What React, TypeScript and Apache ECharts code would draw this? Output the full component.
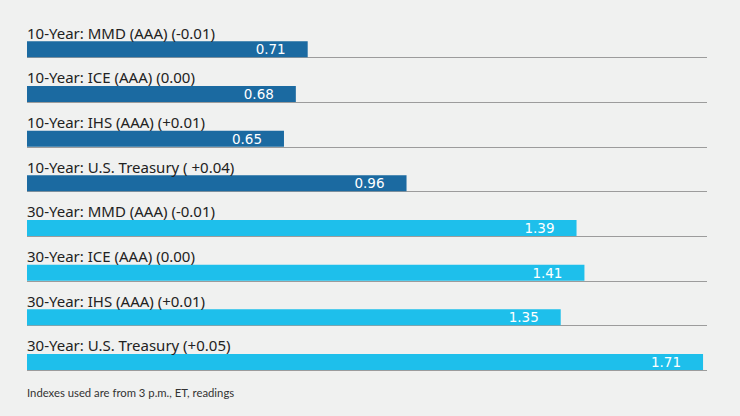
import React, { useEffect, useRef } from "react";
import * as echarts from "echarts";

const categories = [
  "10-Year: MMD (AAA) (-0.01)",
  "10-Year: ICE (AAA) (0.00)",
  "10-Year: IHS (AAA) (+0.01)",
  "10-Year: U.S. Treasury ( +0.04)",
  "30-Year: MMD (AAA) (-0.01)",
  "30-Year: ICE (AAA) (0.00)",
  "30-Year: IHS (AAA) (+0.01)",
  "30-Year: U.S. Treasury (+0.05)",
];
const values = [0.71, 0.68, 0.65, 0.96, 1.39, 1.41, 1.35, 1.71];
const groups = ["10", "10", "10", "10", "30", "30", "30", "30"];
const footnote = "Indexes used are from 3 p.m., ET, readings";

const XMAX = 1.72;
const COLOR_10 = "#1b6aa1";
const COLOR_30 = "#1ebfeb";

export default function App() {
  const ref = useRef<HTMLDivElement>(null);
  useEffect(() => {
    if (!ref.current) return;
    const chart = echarts.init(ref.current, null, { renderer: "svg" });
    chart.setOption({
      animation: false,
      backgroundColor: "#f0f1f0",
      grid: { left: 27, right: 33, top: 27, bottom: 31.7, containLabel: false },
      xAxis: {
        type: "value",
        min: 0,
        max: XMAX,
        show: false,
      },
      yAxis: {
        type: "category",
        data: categories,
        inverse: true,
        axisLine: { show: false },
        axisTick: { show: false },
        splitLine: { show: false },
        axisLabel: {
          inside: true,
          margin: 0,
          align: "left",
          verticalAlign: "bottom",
          lineHeight: 33,
          color: "#222222",
          fontSize: 15,
          fontFamily: "Noto Sans",
        },
        z: 10,
      },
      graphic: [
        {
          type: "text",
          left: 27,
          top: 387,
          style: {
            text: footnote,
            fill: "#333333",
            fontSize: 11.3,
            fontFamily: "Lato",
          },
        },
      ],
      series: [
        {
          type: "custom",
          z: 1,
          encode: { x: 0, y: 1 },
          data: categories.map((_, i) => [XMAX, i]),
          renderItem: (params: any, api: any) => {
            const i = api.value(1);
            const l = api.coord([0, i]);
            const r = api.coord([XMAX, i]);
            const y = Math.round(l[1] + 8) + 0.5;
            return {
              type: "line",
              shape: { x1: l[0], y1: y, x2: r[0], y2: y },
              style: { stroke: "#9c9c9c", lineWidth: 1 },
            };
          },
          silent: true,
        },
        {
          type: "bar",
          z: 2,
          barWidth: 16,
          data: values.map((v, i) => ({
            value: v,
            itemStyle: { color: groups[i] === "10" ? COLOR_10 : COLOR_30 },
          })),
          label: {
            show: true,
            position: "insideRight",
            distance: 22,
            color: "#ffffff",
            fontSize: 13.5,
            fontWeight: "normal",
            textBorderWidth: 0,
            fontFamily: "DejaVu Sans",
            formatter: (p: any) => p.value.toFixed(2),
          },
        },
      ],
    });
    return () => chart.dispose();
  }, []);
  return (
    <div
      ref={ref}
      style={{ position: "fixed", left: 0, top: 0, width: 740, height: 416 }}
    />
  );
}
